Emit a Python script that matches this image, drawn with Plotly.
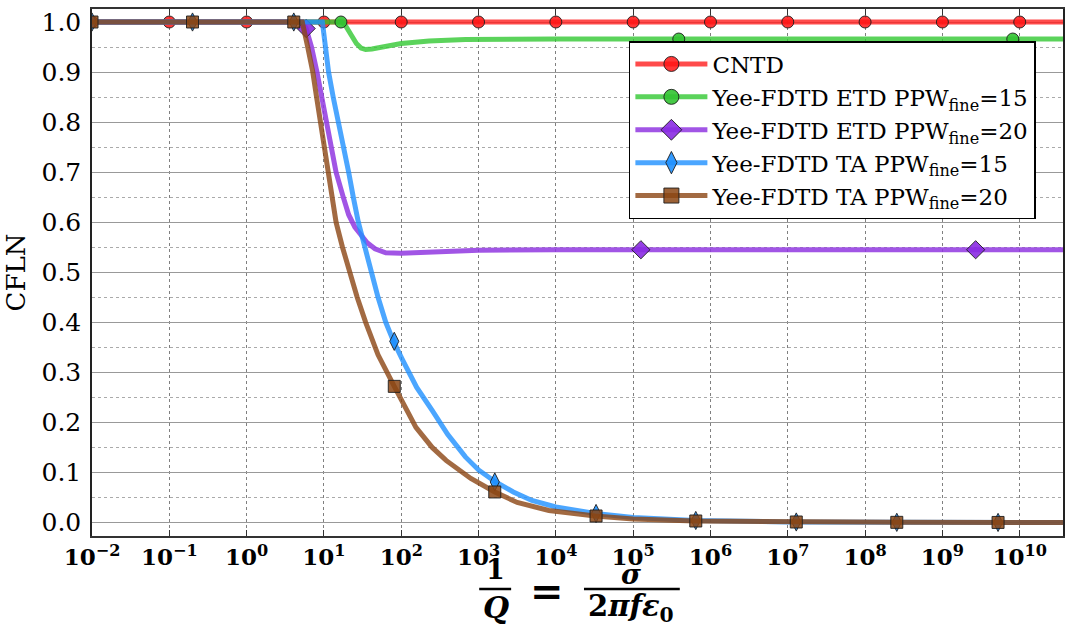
import numpy as np
import plotly.graph_objects as go

# ---------------- data (x given as log10(1/Q), y = CFLN) ----------------
cntd_log10x = [-2, 10.56]
cntd_y = [1.0, 1.0]
cntd_m_log10x = [-2, -1, 0, 1, 2, 3, 4, 5, 6, 7, 8, 9, 10]
cntd_my = [1.0] * len(cntd_m_log10x)

etd15_log10x = [-2, 1.22, 1.27, 1.33, 1.38, 1.42, 1.48, 1.54, 1.62, 1.76, 2.0, 2.36, 2.83, 4.0, 10.56]
etd15_y = [1.0, 1.0, 0.995, 0.981, 0.966, 0.957, 0.948, 0.945, 0.946, 0.951, 0.957, 0.962, 0.965, 0.966, 0.966]
etd15_m_log10x = [1.22, 5.59, 9.91]
etd15_my = [1.0, 0.966, 0.966]

etd20_log10x = [-2, 0.72, 0.77, 0.84, 0.91, 0.97, 1.03, 1.09, 1.157, 1.25, 1.32, 1.40, 1.48, 1.56, 1.66,
                1.80, 2.0, 2.25, 2.6, 3.0, 4.0, 10.56]
etd20_y = [1.0, 1.0, 0.987, 0.95, 0.9, 0.85, 0.8, 0.75, 0.7, 0.65, 0.615, 0.59, 0.573, 0.559, 0.547,
           0.539, 0.538, 0.540, 0.542, 0.544, 0.545, 0.545]
etd20_m_log10x = [0.77, 5.10, 9.43]
etd20_my = [0.987, 0.545, 0.545]

ta15_log10x = [-2, 0.98, 1.02, 1.06, 1.12, 1.19, 1.255, 1.32, 1.38, 1.445, 1.53, 1.61, 1.70, 1.80, 1.90,
               2.02, 2.2, 2.4, 2.6, 2.83, 3.0, 3.21, 3.45, 3.69, 4.0, 4.51, 5.0, 5.8, 7.0, 8.5, 10.56]
ta15_y = [1.0, 1.0, 0.95, 0.9, 0.85, 0.8, 0.75, 0.7, 0.65, 0.6, 0.55, 0.5, 0.45, 0.4, 0.362,
          0.324, 0.27, 0.224, 0.176, 0.131, 0.105, 0.082, 0.061, 0.044, 0.031, 0.018, 0.010, 0.004,
          0.0012, 0.0003, 0.0]
ta15_m_log10x = [-2, -0.70, 0.61, 1.91, 3.21, 4.52, 5.81, 7.11, 8.41, 9.72]
ta15_my = [1.0, 1.0, 1.0, 0.362, 0.081, 0.018, 0.004, 0.001, 0.0003, 0.0001]

ta20_log10x = [-2, 0.72, 0.79, 0.856, 0.905, 0.955, 1.0, 1.05, 1.10, 1.157, 1.24, 1.33, 1.43, 1.54,
               1.70, 1.91, 2.19, 2.4, 2.58, 2.9, 3.21, 3.5, 3.91, 4.51, 5.0, 5.8, 7.1, 8.5, 10.56]
ta20_y = [1.0, 1.0, 0.95, 0.9, 0.85, 0.8, 0.75, 0.7, 0.65, 0.6, 0.55, 0.5, 0.45, 0.4,
          0.335, 0.272, 0.19, 0.15, 0.124, 0.088, 0.061, 0.04, 0.024, 0.013, 0.007, 0.003, 0.001,
          0.0003, 0.0]
ta20_m_log10x = [-2, -0.70, 0.61, 1.91, 3.21, 4.52, 5.81, 7.11, 8.41, 9.72]
ta20_my = [1.0, 1.0, 1.0, 0.272, 0.061, 0.013, 0.003, 0.001, 0.0003, 0.0001]

xtick_exponents = [-2, -1, 0, 1, 2, 3, 4, 5, 6, 7, 8, 9, 10]
xtick_text = ["10<sup>\u22122</sup>", "10<sup>\u22121</sup>", "10<sup>0</sup>", "10<sup>1</sup>",
              "10<sup>2</sup>", "10<sup>3</sup>", "10<sup>4</sup>", "10<sup>5</sup>", "10<sup>6</sup>",
              "10<sup>7</sup>", "10<sup>8</sup>", "10<sup>9</sup>", "10<sup>10</sup>"]
ytick_vals = [0.0, 0.1, 0.2, 0.3, 0.4, 0.5, 0.6, 0.7, 0.8, 0.9, 1.0]


def tox(lg):
    return np.power(10.0, np.asarray(lg, dtype=float))


series = [
    dict(name="CNTD", x=cntd_log10x, y=cntd_y, mx=cntd_m_log10x, my=cntd_my,
         line="rgba(255,30,30,0.8)", mfill="rgba(255,20,20,0.85)", symbol="circle", ms=12, lms=15),
    dict(name="Yee-FDTD ETD PPW<sub>fine</sub>=15", x=etd15_log10x, y=etd15_y, mx=etd15_m_log10x, my=etd15_my,
         line="rgba(50,200,50,0.8)", mfill="rgba(50,195,50,0.9)", symbol="circle", ms=12, lms=15),
    dict(name="Yee-FDTD ETD PPW<sub>fine</sub>=20", x=etd20_log10x, y=etd20_y, mx=etd20_m_log10x, my=etd20_my,
         line="rgba(145,55,225,0.85)", mfill="rgba(138,43,226,0.9)", symbol="diamond", ms=14, lms=17),
    dict(name="Yee-FDTD TA PPW<sub>fine</sub>=15", x=ta15_log10x, y=ta15_y, mx=ta15_m_log10x, my=ta15_my,
         line="rgba(30,144,255,0.8)", mfill="rgba(30,144,255,0.9)", symbol="diamond-tall", ms=13, lms=16),
    dict(name="Yee-FDTD TA PPW<sub>fine</sub>=20", x=ta20_log10x, y=ta20_y, mx=ta20_m_log10x, my=ta20_my,
         line="rgba(139,69,19,0.8)", mfill="rgba(139,69,19,0.85)", symbol="square", ms=12, lms=15),
]

fig = go.Figure()
for s in series:
    fig.add_trace(go.Scatter(x=tox(s["x"]), y=s["y"], mode="lines", showlegend=False,
                             line=dict(color=s["line"], width=5, shape="linear"),
                             hoverinfo="skip"))
    fig.add_trace(go.Scatter(x=tox(s["mx"]), y=s["my"], mode="markers", showlegend=False,
                             marker=dict(symbol=s["symbol"], size=s["ms"], color=s["mfill"],
                                         line=dict(color="rgba(30,30,30,0.9)", width=1))))
for s in series:
    fig.add_trace(go.Scatter(x=[None], y=[None], mode="lines+markers", name=s["name"],
                             line=dict(color=s["line"], width=5),
                             marker=dict(symbol=s["symbol"], size=s["lms"], color=s["mfill"],
                                         line=dict(color="rgba(30,30,30,0.9)", width=1))))

W, H = 1065, 630
ML, MR, MT, MB = 92, 0, 9, 94
PW, PH = W - ML - MR, H - MT - MB


def px(xp):
    return (xp - ML) / PW


def py(yp):
    return (H - MB - yp) / PH


SERIF = "DejaVu Serif"
anns = []


def txt(t, xc, yc, size, weight="bold", style="normal"):
    anns.append(dict(text=t, x=px(xc), y=py(yc), xref="paper", yref="paper",
                     xanchor="center", yanchor="middle", showarrow=False,
                     font=dict(family=SERIF, size=size, color="black", weight=weight, style=style)))


txt("1", 496, 569, 27)
txt("Q", 497, 607, 30, style="italic")
txt("=", 548, 590, 40)
txt("\u03c3", 632, 574, 27, style="italic")
txt("2<i>\u03c0f\u03b5</i><sub>0</sub>", 632, 608, 29)

shapes = [
    dict(type="line", xref="paper", yref="paper", x0=px(480), x1=px(512), y0=py(589), y1=py(589),
         line=dict(color="black", width=2.5)),
    dict(type="line", xref="paper", yref="paper", x0=px(585), x1=px(681), y0=py(589), y1=py(589),
         line=dict(color="black", width=2.5)),
]

fig.update_layout(
    width=W, height=H,
    margin=dict(l=ML, r=MR, t=MT, b=MB),
    paper_bgcolor="white", plot_bgcolor="white",
    font=dict(family=SERIF, color="black"),
    annotations=anns, shapes=shapes,
    legend=dict(x=px(630), y=py(41), xanchor="left", yanchor="top",
                bgcolor="white", bordercolor="black", borderwidth=1.5,
                font=dict(family=SERIF, size=23, color="black"),
                itemwidth=72, tracegroupgap=0),
)
fig.update_xaxes(
    type="log", range=[-2, 10.56],
    tickvals=tox(xtick_exponents), ticktext=xtick_text,
    tickfont=dict(family=SERIF, size=23, weight="bold", color="black"),
    ticks="inside", ticklen=6, tickcolor="#333", mirror="ticks",
    showline=True, linecolor="#333", linewidth=1.5,
    showgrid=True, gridcolor="#808080", griddash="dot", gridwidth=1,
    zeroline=False,
)
fig.update_yaxes(
    range=[-0.027, 1.026],
    tickvals=ytick_vals, tickformat=".1f",
    tickfont=dict(family=SERIF, size=25, color="black"),
    ticks="", mirror=True, ticklabelstandoff=4,
    showline=True, linecolor="#222", linewidth=1.5,
    showgrid=True, gridcolor="#999999", gridwidth=1,
    minor=dict(tickvals=[0.05, 0.15, 0.25, 0.35, 0.45, 0.55, 0.65, 0.75, 0.85, 0.95],
               showgrid=True, gridcolor="#aaaaaa", griddash="dot", gridwidth=1),
    zeroline=False,
    title=dict(text="CFLN", font=dict(family=SERIF, size=26, color="black"), standoff=8),
)

fig.write_html("out.html")
